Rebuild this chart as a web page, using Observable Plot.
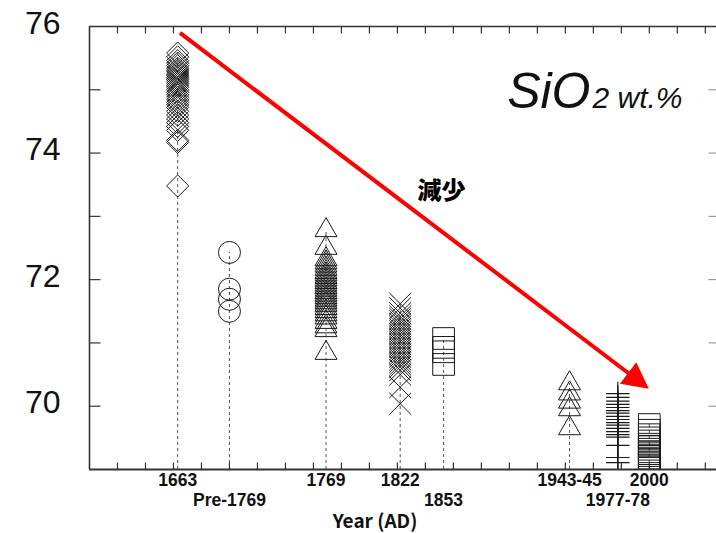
<!DOCTYPE html>
<html>
<head>
<meta charset="utf-8">
<script src="https://cdn.jsdelivr.net/npm/d3@7"></script>
<script src="https://cdn.jsdelivr.net/npm/@observablehq/plot@0.6"></script>
<style>
  body { margin: 0; background: #fff; }
  svg { display: block; }
</style>
</head>
<body>
<div id="chart"></div>
<script>
// ---- Data ----
const groupLabels = ["1663", "Pre-1769", "1769", "1822", "1853", "1943-45", "1977-78", "2000"];
const groupYears  = [1663, 1700, 1769, 1822, 1853, 1943, 1977.5, 2000];
const labelRows   = [1, 2, 1, 1, 2, 1, 2, 1];
const groupSymbols = ["diamond2", "circle", "triangle2", "times", "square2", "triangle2", "plus", "square2"];

const sio2_1663 = [75.58, 75.52, 75.46, 75.42, 75.38, 75.34, 75.31, 75.28, 75.25, 75.22, 75.19, 75.16, 75.13, 75.1, 75.07, 75.04, 75.0, 74.96, 74.92, 74.88, 74.84, 74.8, 74.76, 74.72, 74.66, 74.6, 74.54, 74.48, 74.42, 74.36, 74.2, 74.17, 73.48];
const sio2_pre1769 = [72.43, 71.85, 71.69, 71.5];
const sio2_1769 = [72.78, 72.5, 72.32, 72.27, 72.22, 72.17, 72.12, 72.08, 72.04, 72.0, 71.96, 71.92, 71.88, 71.84, 71.8, 71.76, 71.72, 71.68, 71.64, 71.6, 71.55, 71.5, 71.45, 71.4, 71.33, 71.26, 71.2, 70.84];
const sio2_1822 = [71.62, 71.55, 71.47, 71.42, 71.38, 71.34, 71.3, 71.26, 71.22, 71.18, 71.14, 71.1, 71.06, 71.02, 70.98, 70.94, 70.9, 70.86, 70.82, 70.78, 70.74, 70.7, 70.66, 70.62, 70.57, 70.5, 70.3, 70.04];
const sio2_1853 = [71.07, 70.93, 70.86, 70.66];
const sio2_1943 = [70.36, 70.2, 70.07, 69.95, 69.65];
const sio2_1977 = [70.2, 70.14, 70.08, 70.03, 69.98, 69.93, 69.89, 69.84, 69.79, 69.74, 69.7, 69.65, 69.6, 69.55, 69.51, 69.38, 69.19, 69.11];
const sio2_2000 = [69.71, 69.62, 69.55, 69.5, 69.45, 69.4, 69.36, 69.32, 69.28, 69.25, 69.22, 69.18, 69.15, 69.12, 69.09, 69.06, 69.03];
const groupValues = [sio2_1663, sio2_pre1769, sio2_1769, sio2_1822, sio2_1853, sio2_1943, sio2_1977, sio2_2000];

const yTickLabels = [76, 74, 72, 70];
const yTicks = [70, 71, 72, 73, 74, 75];
const xTicks = d3.range(1620, 2041, 20);
const arrowFrom = [1665, 75.89];   // start of the red "減少" arrow
const arrowTo   = [2000, 70.27];   // tip of the arrow

// ---- Derived tables ----
const groups = groupLabels.map((label, i) => ({
  label, year: groupYears[i], row: labelRows[i], symbol: groupSymbols[i],
  top: d3.max(groupValues[i])
}));
const sizes = {"diamond2": 10, "circle": 11, "triangle2": 10.5, "times": 10, "square2": 13.8, "plus": 7.6};

// pixel-length tick symbols
const tickUp = {draw(c) { c.moveTo(0, 0); c.lineTo(0, -7); }};
const tickDown = {draw(c) { c.moveTo(0, 0); c.lineTo(0, 7); }};
const tickRight = {draw(c) { c.moveTo(0, 0); c.lineTo(11, 0); }};
const tickLeft = {draw(c) { c.moveTo(0, 0); c.lineTo(-8, 0); }};

function arrowMark(index, scales) {
  const {x, y} = scales;
  const x1 = x(arrowFrom[0]), y1 = y(arrowFrom[1]), x2 = x(arrowTo[0]), y2 = y(arrowTo[1]);
  const L = Math.hypot(x2 - x1, y2 - y1), ux = (x2 - x1) / L, uy = (y2 - y1) / L;
  const hl = 26, hw = 13.5;
  const bx = x2 - ux * hl, by = y2 - uy * hl;
  const g = d3.create("svg:g");
  g.append("line").attr("x1", x1).attr("y1", y1).attr("x2", bx + ux * 3).attr("y2", by + uy * 3)
    .attr("stroke", "#ff0000").attr("stroke-width", 4);
  g.append("polygon")
    .attr("points", [[x2, y2], [bx - uy * hw, by + ux * hw], [bx + uy * hw, by - ux * hw]].map(p => p.join(",")).join(" "))
    .attr("fill", "#ff0000");
  return g.node();
}

const gothic = "'Noto Sans CJK JP', 'Noto Sans CJK SC', sans-serif";
const sans = "'Liberation Sans', Arial, Helvetica, sans-serif";

const dotMarks = groups.map((g, i) => Plot.dot(groupValues[i], {
  x: () => g.year, y: d => d, symbol: g.symbol, r: sizes[g.symbol],
  fill: "none", stroke: "#1a1a1a", strokeWidth: g.symbol === "plus" ? 1.2 : 1, clip: true
}));

const chart = Plot.plot({
  width: 716,
  height: 533,
  marginLeft: 89,
  marginRight: 0,
  marginTop: 26,
  marginBottom: 64,
  x: {domain: [1600, 2048], axis: null},
  y: {domain: [69, 76], axis: null},
  style: {background: "#fff", overflow: "visible"},
  marks: [
    // dashed drop lines
    Plot.ruleX(groups, {x: "year", y1: 69, y2: "top", stroke: "#555", strokeWidth: 1, strokeDasharray: "3,3"}),
    ...dotMarks,
    // frame
    Plot.ruleX([1600], {stroke: "#333", strokeWidth: 1.6}),
    Plot.ruleY([76], {stroke: "#333", strokeWidth: 1.6}),
    Plot.ruleY([69], {stroke: "#333", strokeWidth: 1.8}),
    // ticks
    Plot.dot(xTicks, {x: d => d, frameAnchor: "bottom", symbol: tickUp, fill: "none", stroke: "#333", strokeWidth: 1.2}),
    Plot.dot(xTicks, {x: d => d, frameAnchor: "top", symbol: tickDown, fill: "none", stroke: "#333", strokeWidth: 1.2}),
    Plot.dot(yTicks, {y: d => d, frameAnchor: "left", symbol: tickRight, fill: "none", stroke: "#333", strokeWidth: 1.2}),
    Plot.dot(yTicks, {y: d => d, frameAnchor: "right", symbol: tickLeft, fill: "none", stroke: "#888", strokeWidth: 1}),
    // y tick labels
    Plot.text(yTickLabels, {y: d => d, text: d => String(d), frameAnchor: "left", textAnchor: "end",
      dx: -29, dy: -3, fontSize: 32, fontFamily: sans, fill: "#111"}),
    // category labels (two rows)
    Plot.text(groups.filter(g => g.row === 1), {x: "year", text: "label", frameAnchor: "bottom", lineAnchor: "bottom",
      dy: 16, fontSize: 17.5, fontWeight: "bold", fontFamily: sans, fill: "#111"}),
    Plot.text(groups.filter(g => g.row === 2), {x: "year", text: "label", frameAnchor: "bottom", lineAnchor: "bottom",
      dy: 36, fontSize: 17.5, fontWeight: "bold", fontFamily: sans, fill: "#111"}),
    // x axis title
    Plot.text(["Year (AD)"], {frameAnchor: "bottom", lineAnchor: "bottom", dx: -28, dy: 58,
      fontSize: 19, fontWeight: "bold", fontFamily: gothic, fill: "#111"}),
    // SiO2 wt.% label
    Plot.text(["SiO"], {frameAnchor: "top-right", textAnchor: "end", lineAnchor: "bottom", dx: -126, dy: 81,
      fontSize: 50, fontStyle: "italic", fontFamily: sans, fill: "#111"}),
    Plot.text(["2 wt.%"], {frameAnchor: "top-right", textAnchor: "start", lineAnchor: "bottom", dx: -124, dy: 81,
      fontSize: 30, fontStyle: "italic", fontFamily: sans, fill: "#111"}),
    // arrow + annotation
    arrowMark,
    Plot.text(["減少"], {frameAnchor: "top-left", textAnchor: "middle", lineAnchor: "middle", dx: 352, dy: 165,
      fontSize: 24, fontWeight: 900, fontFamily: gothic, fill: "#000"})
  ]
});

document.getElementById("chart").appendChild(chart);
</script>
</body>
</html>
